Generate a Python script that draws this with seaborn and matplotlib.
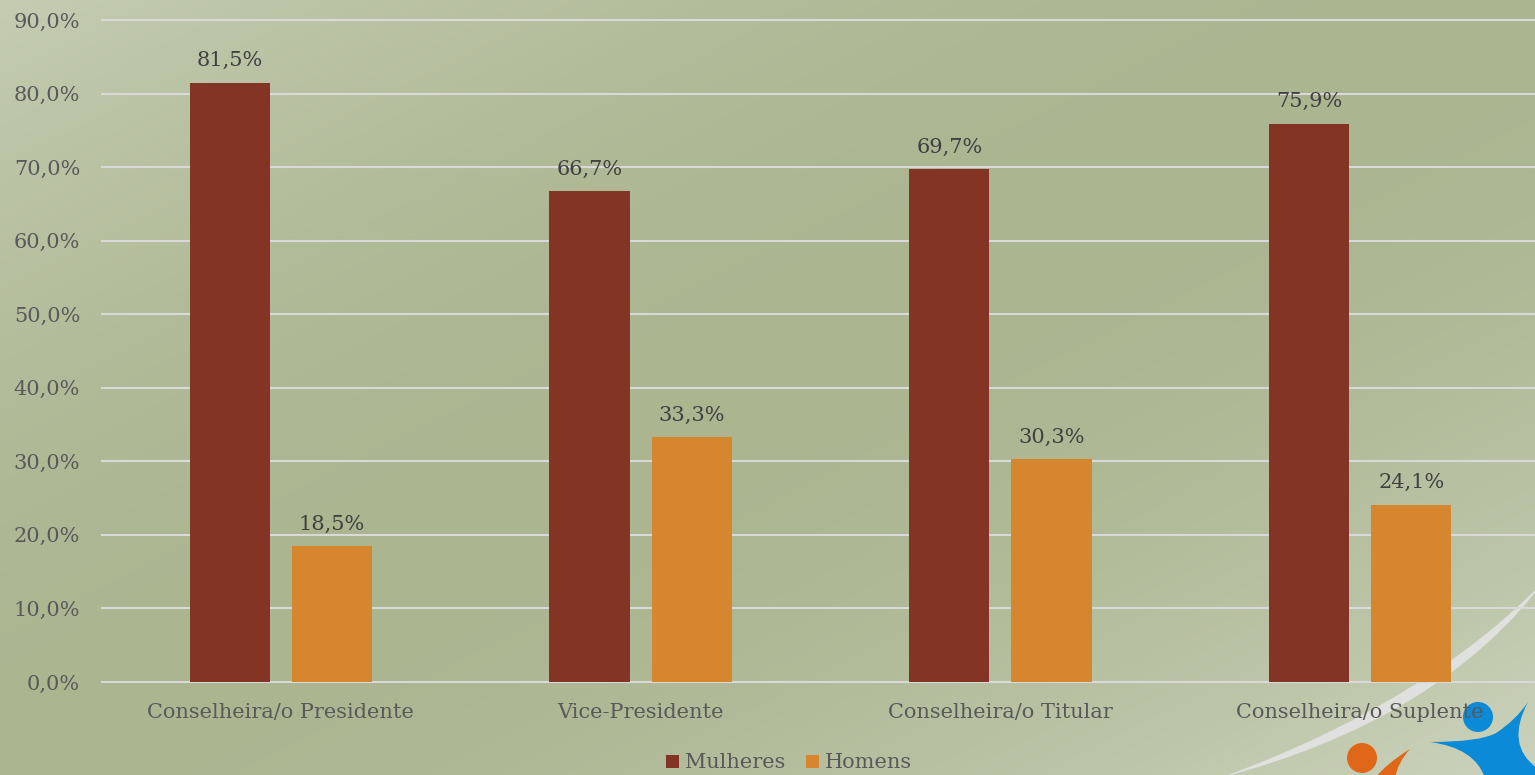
import numpy as np
import pandas as pd
import seaborn as sns
import matplotlib.pyplot as plt
from matplotlib.colors import to_rgb
from matplotlib.patches import Circle, PathPatch
from matplotlib.path import Path

# dados do gráfico
categorias = ["Conselheira/o Presidente", "Vice-Presidente",
              "Conselheira/o Titular", "Conselheira/o Suplente"]
mulheres = [81.5, 66.7, 69.7, 75.9]
homens = [18.5, 33.3, 30.3, 24.1]
series = ["Mulheres", "Homens"]
yticks = [0, 10, 20, 30, 40, 50, 60, 70, 80, 90]

cores = ["#843424", "#d6862e"]
texto = "#595959"
rotulo = "#404040"

df = pd.DataFrame({
    "Cargo": categorias * 2,
    "Percentual": mulheres + homens,
    "Sexo": [series[0]] * len(mulheres) + [series[1]] * len(homens),
})

sns.set_theme(style="white")
plt.rcParams["font.family"] = ["DejaVu Serif"]
fs = 15

W, H = 1535, 775
fig = plt.figure(figsize=(W / 100, H / 100), dpi=100)

# fundo em degradê (claro nos cantos sup. esq. e inf. dir.)
bg = fig.add_axes([0, 0, 1, 1], zorder=-10)
yy, xx = np.mgrid[0:1:200j, 0:1:400j]
d = xx + yy - 1
escuro = np.array(to_rgb("#abb590"))
claro_se = np.array(to_rgb("#c5ccb2"))
claro_id = np.array(to_rgb("#ccd3bd"))
t = (np.abs(d) ** 1.8)[..., None]
claro = np.where(d[..., None] < 0, claro_se, claro_id)
bg.imshow(escuro + (claro - escuro) * t, aspect="auto",
          extent=[0, 1, 0, 1], origin="upper")
bg.axis("off")

# logotipo decorativo (coordenadas em pixels)
deco = fig.add_axes([0, 0, 1, 1], zorder=-5)
deco.set_xlim(0, W)
deco.set_ylim(H, 0)
deco.axis("off")
p0, p1, p2, p1i = (1220, 778), (1440, 720), (1545, 580), (1428, 702)
swoosh = Path([p0, p1, p2, p1i, p0, p0],
              [Path.MOVETO, Path.CURVE3, Path.CURVE3, Path.CURVE3, Path.CURVE3, Path.CLOSEPOLY])
deco.add_patch(PathPatch(swoosh, fc="#e4e4e4", ec="none", alpha=0.9))
azul, laranja = "#0b8ad8", "#e0661a"
deco.add_patch(Circle((1478, 717), 15, fc=azul, ec="none"))
corpo = Path([(1430, 742), (1480, 742), (1496, 733), (1516, 720), (1528, 702),
              (1505, 745), (1537, 768), (1537, 778), (1485, 778),
              (1475, 748), (1430, 742)],
             [Path.MOVETO, Path.CURVE3, Path.CURVE3, Path.CURVE3, Path.CURVE3,
              Path.CURVE3, Path.CURVE3, Path.LINETO, Path.LINETO,
              Path.CURVE3, Path.CURVE3])
deco.add_patch(PathPatch(corpo, fc=azul, ec="none"))
deco.add_patch(Circle((1362, 758), 15, fc=laranja, ec="none"))
braco = Path([(1410, 749), (1386, 764), (1375, 778), (1395, 778), (1398, 762), (1410, 749)],
             [Path.MOVETO, Path.CURVE3, Path.CURVE3, Path.LINETO, Path.CURVE3, Path.CURVE3])
deco.add_patch(PathPatch(braco, fc=laranja, ec="none"))

# área do gráfico
unid = (682 - 20) / 90
topo, base = 20 - unid, 682 + unid
ax = fig.add_axes([101 / W, (H - base) / H, 1 - 101 / W, (base - topo) / H])
ax.patch.set_alpha(0)

sns.barplot(data=df, x="Cargo", y="Percentual", hue="Sexo", hue_order=series,
            palette=cores, width=0.568, gap=0.215, saturation=1, linewidth=0, ax=ax)

for c in ax.containers:
    ax.bar_label(c, labels=[f"{v:.1f}%".replace(".", ",") for v in c.datavalues],
                 padding=9, color=rotulo, fontsize=fs)

ax.set_ylim(-1, 91)
ax.set_xlim(-0.5, 3.486)
ax.set_yticks(yticks)
ax.set_yticklabels([f"{v:.1f}%".replace(".", ",") for v in yticks])
ax.yaxis.grid(True, color="#d9d9d9", linewidth=1.5)
ax.set_axisbelow(True)
ax.tick_params(axis="y", length=0, pad=15, labelsize=fs, labelcolor=texto)
ax.tick_params(axis="x", length=0, pad=10, labelsize=fs, labelcolor=texto)
ax.set_xlabel("")
ax.set_ylabel("")
for s in ax.spines.values():
    s.set_visible(False)

leg = ax.get_legend()
handles, labels = ax.get_legend_handles_labels()
leg.remove()
for hd in handles:
    hd.set_linewidth(0)
fig.legend(handles, labels, loc="center", bbox_to_anchor=(789 / W, 1 - 763 / H),
           ncol=2, frameon=False, fontsize=fs, labelcolor=texto,
           handlelength=0.6, handleheight=0.6, handletextpad=0.3,
           columnspacing=1.0, borderaxespad=0)

fig.savefig("out.png", dpi=100)
